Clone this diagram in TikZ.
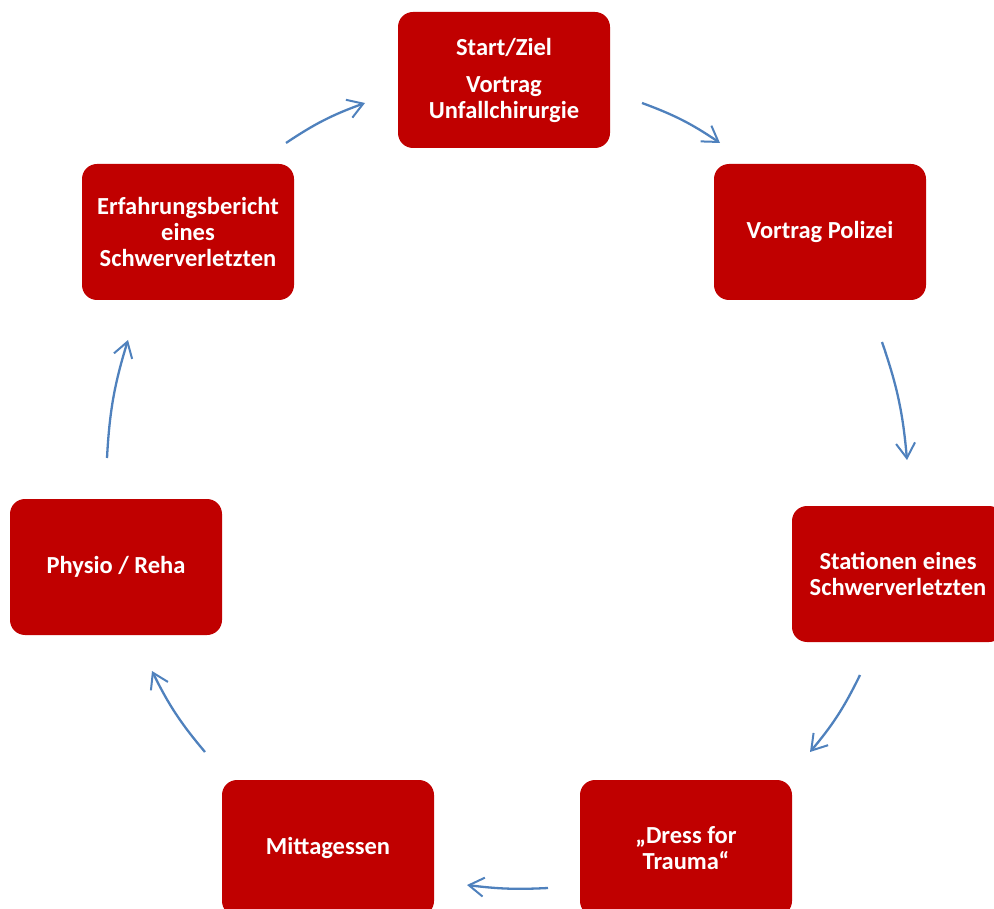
\documentclass[tikz,border=0pt]{standalone}
\usepackage{fontspec}
\setmainfont{Carlito}
\usetikzlibrary{arrows.meta}

\definecolor{boxred}{HTML}{C00000}
\definecolor{arrowblue}{HTML}{4F81BD}

\tikzset{
  station/.style={draw=none, fill=boxred, rounded corners=15pt, minimum width=212pt,
    minimum height=136pt, text=white, align=center, font=\bfseries\fontsize{24.5}{26}\selectfont},
  cyclearrow/.style={arrowblue, line width=2.3pt, -{Straight Barb[length=15pt,width=19pt,line width=2pt]}}
}

\begin{document}
\begin{tikzpicture}[x=1pt, y=-1pt]
			\useasboundingbox (0,0) rectangle (994,909);

			% Draw the boxes
			\node[station] (Start) at (504,80) {Start/Ziel\\[11pt]Vortrag\\Unfallchirurgie};
			\node[station] (Polizei) at (820,232) {Vortrag Polizei};
			\node[station] (Stationen) at (898,574) {Stationen eines\\Schwerverletzten};
			\node[station] (Dress) at (686,848) {„Dress for\\Trauma“};
			\node[station] (Mittag) at (328,848) {Mittagessen};
			\node[station] (Physio) at (116,567) {Physio / Reha};
			\node[station] (Bericht) at (188,232) {Erfahrungsbericht\\eines\\Schwerverletzten};

			% Ends of the arrows
			\coordinate (a1) at (642,103);  \coordinate (b1) at (720,143);
			\coordinate (a2) at (882,342);  \coordinate (b2) at (907,460);
			\coordinate (a3) at (860,675);  \coordinate (b3) at (810,752);
			\coordinate (a4) at (548,888);  \coordinate (b4) at (467,885);
			\coordinate (a5) at (205,752);  \coordinate (b5) at (152,671);
			\coordinate (a6) at (107,458);  \coordinate (b6) at (128,340);
			\coordinate (a7) at (286,143);  \coordinate (b7) at (365,103);

			% Draw the arrows round the cycle
			\draw[cyclearrow] (a1) to[bend left=7] (b1);
			\draw[cyclearrow] (a2) to[bend left=7] (b2);
			\draw[cyclearrow] (a3) to[bend left=7] (b3);
			\draw[cyclearrow] (a4) to[bend left=5] (b4);
			\draw[cyclearrow] (a5) to[bend left=7] (b5);
			\draw[cyclearrow] (a6) to[bend left=7] (b6);
			\draw[cyclearrow] (a7) to[bend left=7] (b7);

		\end{tikzpicture}
\end{document}
